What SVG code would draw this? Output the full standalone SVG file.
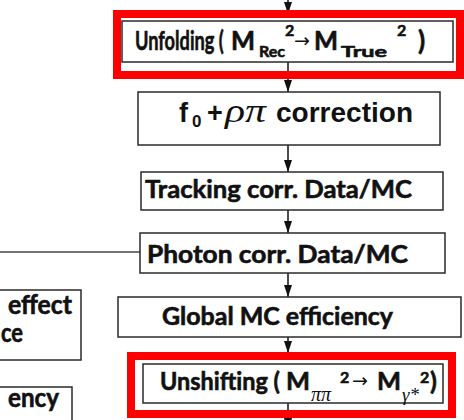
<svg xmlns="http://www.w3.org/2000/svg" width="464" height="420" viewBox="0 0 464 420">
<defs>
<marker id="ah" viewBox="0 0 12 8" refX="12" refY="4" markerWidth="12" markerHeight="8" markerUnits="userSpaceOnUse" orient="auto">
<path d="M0,0 L12,4 L0,8 Z" fill="#111"/>
</marker>
</defs>
<style>
.box{fill:#fff;stroke:#2a2a2a;stroke-width:1.5}
.hl{fill:none;stroke:#ff0000;stroke-width:8}
.c{font-family:Lato,"Open Sans","Liberation Sans",sans-serif;font-weight:bold;fill:#111;stroke:#111;stroke-width:0.6}
.a{font-family:"Liberation Sans",Arial,sans-serif;font-weight:bold;fill:#111}
.g{font-family:"Liberation Serif","Times New Roman",serif;font-style:italic;font-weight:normal;stroke:none;fill:#111}
.ar{font-family:"DejaVu Sans",sans-serif;font-weight:normal;stroke:none;fill:#111}
.con{stroke:#111;stroke-width:1.5;fill:none}
</style>
<rect width="464" height="420" fill="#fff"/>
<g id="connectors">
<line class="con" x1="288" y1="-10" x2="288" y2="14" marker-end="url(#ah)"/>
<line class="con" x1="288" y1="62" x2="288" y2="92" marker-end="url(#ah)"/>
<line class="con" x1="288" y1="145" x2="288" y2="172" marker-end="url(#ah)"/>
<line class="con" x1="288" y1="210" x2="288" y2="233" marker-end="url(#ah)"/>
<line class="con" x1="288" y1="273" x2="288" y2="297" marker-end="url(#ah)"/>
<line class="con" x1="288" y1="337" x2="288" y2="353" marker-end="url(#ah)"/>
<line class="con" x1="288" y1="403" x2="288" y2="430" marker-end="url(#ah)"/>
<line x1="0" y1="252" x2="140" y2="252" stroke="#444" stroke-width="1.5"/>
</g>
<g id="left-effect">
<rect class="box" x="-5" y="290" width="86" height="70"/>
<text class="c" x="72" y="314" font-size="26" text-anchor="end" textLength="64" lengthAdjust="spacingAndGlyphs">effect</text>
<text class="c" x="1" y="342" font-size="26" textLength="22" lengthAdjust="spacingAndGlyphs">ce</text>
</g>
<g id="left-efficiency">
<rect class="box" x="-5" y="387" width="77" height="40"/>
<text class="c" x="8" y="407" font-size="26" textLength="51" lengthAdjust="spacingAndGlyphs">ency</text>
</g>
<g id="unfolding">
<rect class="box" x="122" y="21" width="331" height="41"/>
<text class="c" font-size="26" transform="translate(135 50) scale(0.7 1)">Unfolding (</text>
<text class="c" font-size="26"><tspan x="231" y="50" textLength="24" lengthAdjust="spacingAndGlyphs">M</tspan><tspan x="259" y="57" font-size="16">Rec</tspan><tspan x="285" y="36" font-size="16">2</tspan><tspan class="ar" x="294" y="47" font-size="19">→</tspan><tspan x="314" y="50" textLength="24" lengthAdjust="spacingAndGlyphs">M</tspan><tspan x="341" y="57" font-size="16" textLength="46" lengthAdjust="spacingAndGlyphs">True</tspan><tspan x="397" y="36" font-size="16">2</tspan><tspan x="418" y="50">)</tspan></text>
<rect class="hl" x="117" y="14" width="343" height="61"/>
</g>
<g id="f0-correction">
<rect class="box" x="138" y="92" width="302" height="53"/>
<text class="a" x="179" y="122" font-size="27">f</text>
<text class="a" x="192" y="127" font-size="17">0</text>
<text class="a" x="207" y="122" font-size="27">+</text>
<text class="g" x="225" y="122" font-size="34" textLength="41" lengthAdjust="spacingAndGlyphs">ρπ</text>
<text class="a" x="276" y="122" font-size="27" textLength="137" lengthAdjust="spacingAndGlyphs">correction</text>
</g>
<g id="tracking">
<rect class="box" x="141" y="172" width="302" height="38"/>
<text class="c" x="145" y="198" font-size="25" textLength="267" lengthAdjust="spacingAndGlyphs">Tracking corr. Data/MC</text>
</g>
<g id="photon">
<rect class="box" x="140" y="233" width="305" height="40"/>
<text class="c" x="147" y="263" font-size="25" textLength="261" lengthAdjust="spacingAndGlyphs">Photon corr. Data/MC</text>
</g>
<g id="global">
<rect class="box" x="118" y="297" width="343" height="40"/>
<text class="c" x="162" y="325" font-size="24" textLength="231" lengthAdjust="spacingAndGlyphs">Global MC efficiency</text>
</g>
<g id="unshifting">
<rect class="box" x="143" y="364" width="300" height="39"/>
<text class="c" font-size="25"><tspan x="160" y="390" textLength="120" lengthAdjust="spacingAndGlyphs">Unshifting (</tspan><tspan x="286" y="390" textLength="24" lengthAdjust="spacingAndGlyphs">M</tspan><tspan class="g" x="311" y="401" font-size="20">ππ</tspan><tspan x="340" y="383" font-size="16">2</tspan><tspan class="ar" x="352" y="387" font-size="19">→</tspan><tspan x="377" y="390" textLength="24" lengthAdjust="spacingAndGlyphs">M</tspan><tspan class="g" x="402" y="401" font-size="19">γ*</tspan><tspan x="420" y="383" font-size="16">2</tspan><tspan x="430" y="390">)</tspan></text>
<rect class="hl" x="131" y="356" width="321" height="58"/>
</g>
</svg>
